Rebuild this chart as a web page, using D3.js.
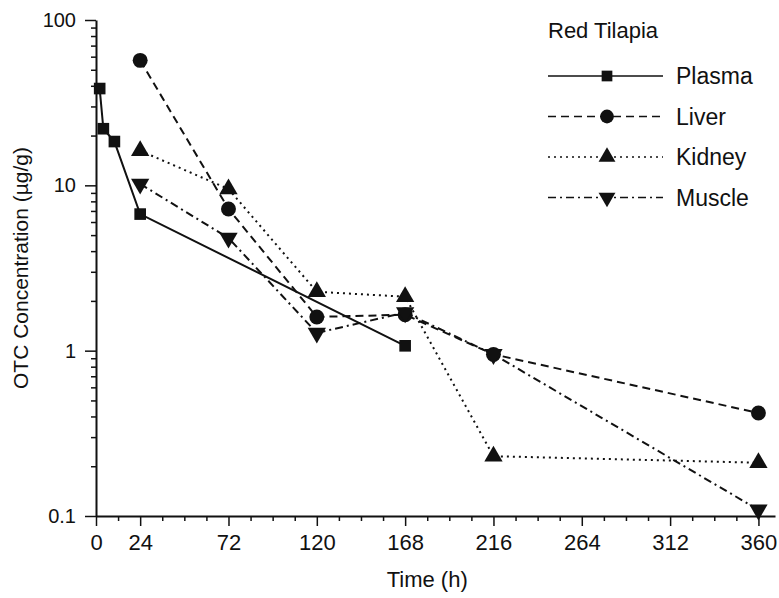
<!DOCTYPE html>
<html>
<head>
<meta charset="utf-8">
<script src="https://cdn.jsdelivr.net/npm/d3@7"></script>
<style>
  body { margin: 0; background: #fff; }
  text { font-family: "Liberation Sans", Arial, sans-serif; fill: #111; }
</style>
</head>
<body>
<div id="chart"></div>
<script>
// Set dimensions and margins
const width = 779;
const height = 598;
const margin = {left: 96, right: 4, top: 20, bottom: 82};

// Data
const plasmaTime = [2, 4, 10, 24, 168];
const plasmaConc = [38.5, 22, 18.4, 6.7, 1.07];
const tissueTime = [24, 72, 120, 168, 216, 360];
const liverConc = [57, 7.2, 1.6, 1.65, 0.95, 0.42];
const kidneyConc = [16.2, 9.5, 2.27, 2.12, 0.23, 0.21];
const muscleConc = [10.2, 4.8, 1.28, 1.7, 0.95, 0.109];

const xTickLabels = [0, 24, 72, 120, 168, 216, 264, 312, 360];
const yTickLabels = [0.1, 1, 10, 100];
const seriesNames = ["Plasma", "Liver", "Kidney", "Muscle"];
const legendTitle = "Red Tilapia";

// series table built from the arrays above
const series = [
  {name: seriesNames[0], t: plasmaTime, v: plasmaConc, dash: null, sym: d3.symbolSquare, size: 135, rot: 0},
  {name: seriesNames[1], t: tissueTime, v: liverConc, dash: "8,5", sym: d3.symbolCircle, size: 175, rot: 0},
  {name: seriesNames[2], t: tissueTime, v: kidneyConc, dash: "2,4", sym: d3.symbolTriangle, size: 145, rot: 0},
  {name: seriesNames[3], t: tissueTime, v: muscleConc, dash: "8,4,2,4", sym: d3.symbolTriangle, size: 145, rot: 180}
];

const svg = d3.select("#chart")
  .append("svg")
  .attr("width", width)
  .attr("height", height);

// scales
const x = d3.scaleLinear()
  .domain([0, 369])
  .range([margin.left, width - margin.right]);

const y = d3.scaleLog()
  .domain([0.1, 100])
  .range([height - margin.bottom, margin.top]);

/*
  Axes
*/

// minor ticks on x every 12 h
const xMinor = d3.range(0, 361, 12).filter(d => !xTickLabels.includes(d));
svg.append("g")
  .attr("transform", `translate(0,${y(0.1)})`)
  .call(d3.axisBottom(x).tickValues(xMinor).tickSize(5).tickFormat(""))
  .call(g => g.select(".domain").remove());

svg.append("g")
  .attr("transform", `translate(0,${y(0.1)})`)
  .call(d3.axisBottom(x).tickValues(xTickLabels).tickSize(10).tickPadding(8).tickSizeOuter(0))
  .attr("font-size", "22px")
  .call(g => g.selectAll("line, path").attr("stroke", "#111").attr("stroke-width", 2));

// minor log ticks on y
const yMinor = [];
[0.1, 1, 10].forEach(b => d3.range(2, 10).forEach(k => yMinor.push(b * k)));
svg.append("g")
  .attr("transform", `translate(${margin.left},0)`)
  .call(d3.axisLeft(y).tickValues(yMinor).tickSize(5).tickFormat(""))
  .call(g => g.select(".domain").remove());

svg.append("g")
  .attr("transform", `translate(${margin.left},0)`)
  .call(d3.axisLeft(y).tickValues(yTickLabels).tickSize(11).tickPadding(9).tickSizeOuter(0)
    .tickFormat(d => String(d)))
  .attr("font-size", "20px")
  .call(g => g.selectAll("line, path").attr("stroke", "#111").attr("stroke-width", 2));

svg.selectAll(".tick line").attr("stroke", "#111").attr("stroke-width", 1.5);
svg.selectAll(".tick text").attr("fill", "#111").style("font-family", '"Liberation Sans", Arial, sans-serif');

// axis titles
svg.append("text")
  .attr("x", x(180))
  .attr("y", 587)
  .attr("text-anchor", "middle")
  .attr("font-size", "22px")
  .text("Time (h)");

svg.append("text")
  .attr("transform", `translate(28,${(y(0.1) + y(100)) / 2}) rotate(-90)`)
  .attr("text-anchor", "middle")
  .attr("font-size", "21px")
  .text("OTC Concentration (µg/g)");

/*
  Lines and markers
*/

const line = d3.line()
  .x(d => x(d[0]))
  .y(d => y(d[1]));

series.forEach(s => {
  const pts = s.t.map((t, i) => [t, s.v[i]]);
  svg.append("path")
    .datum(pts)
    .attr("fill", "none")
    .attr("stroke", "#111")
    .attr("stroke-width", 2)
    .attr("stroke-dasharray", s.dash)
    .attr("d", line);

  svg.selectAll(null)
    .data(pts)
    .enter()
    .append("path")
      .attr("d", d3.symbol().type(s.sym).size(s.size))
      .attr("transform", d => `translate(${x(d[0])},${y(d[1])}) rotate(${s.rot})`)
      .attr("fill", "#111");
});

/*
  Legend
*/

const legend = svg.append("g").attr("transform", "translate(548,0)");

legend.append("text")
  .attr("x", 0)
  .attr("y", 38)
  .attr("font-size", "22px")
  .text(legendTitle);

series.forEach((s, i) => {
  const ly = 76 + i * 40.5;
  legend.append("line")
    .attr("x1", 0).attr("x2", 115)
    .attr("y1", ly).attr("y2", ly)
    .attr("stroke", "#111")
    .attr("stroke-width", 1.6)
    .attr("stroke-dasharray", s.dash);
  legend.append("path")
    .attr("d", d3.symbol().type(s.sym).size(s.size * 0.85))
    .attr("transform", `translate(59,${ly}) rotate(${s.rot})`)
    .attr("fill", "#111");
  legend.append("text")
    .attr("x", 128)
    .attr("y", ly + 8)
    .attr("font-size", "23px")
    .text(s.name);
});
</script>
</body>
</html>
